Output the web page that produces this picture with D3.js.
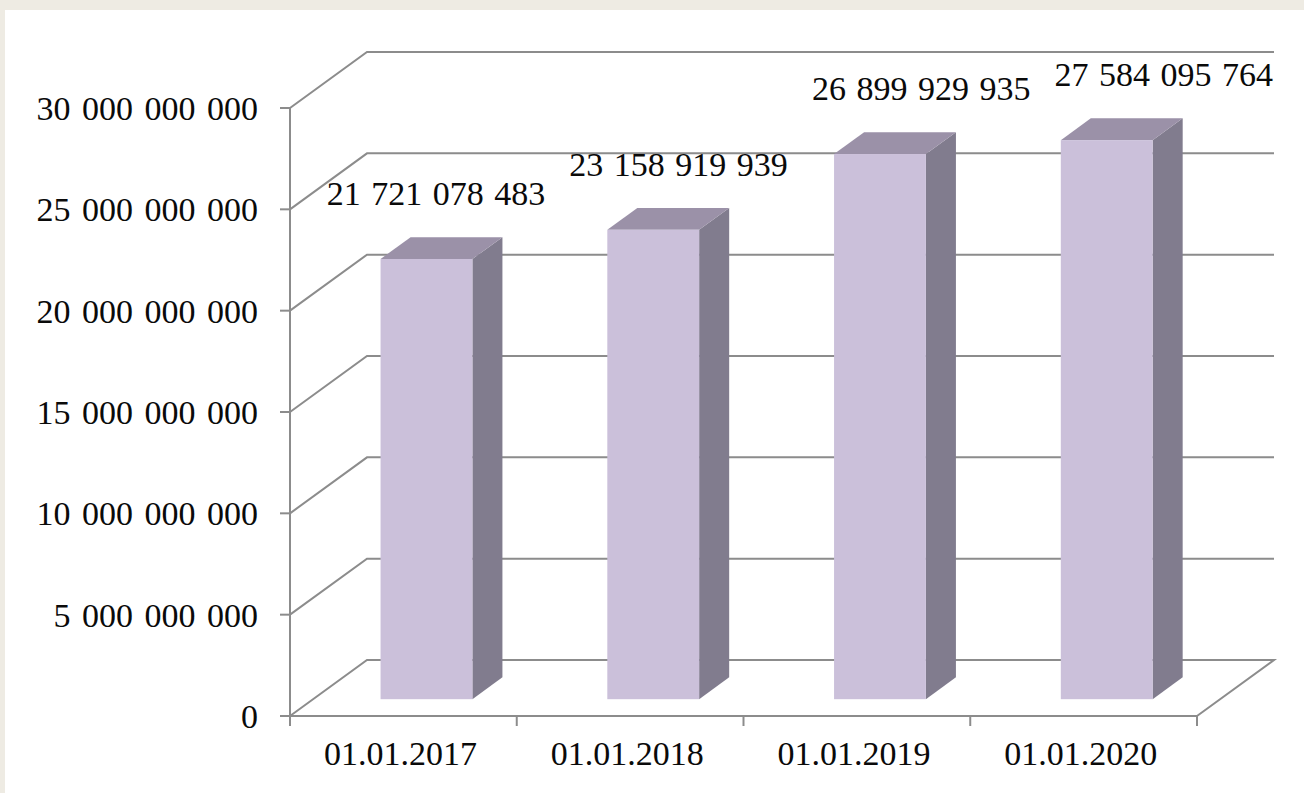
<!DOCTYPE html>
<html>
<head>
<meta charset="utf-8">
<script src="https://cdn.jsdelivr.net/npm/d3@7"></script>
<style>
  body { margin: 0; background: #eeebe3; }
  svg text { font-family: "Liberation Serif", "Times New Roman", serif; fill: #0a0a0a; }
</style>
</head>
<body>
<div id="my_dataviz"></div>
<script>
// data
let dates = ["01.01.2017", "01.01.2018", "01.01.2019", "01.01.2020"]
let values = [21721078483, 23158919939, 26899929935, 27584095764]
let yTicks = [0, 5e9, 10e9, 15e9, 20e9, 25e9, 30e9]

var W = 1304, H = 793

var svg = d3.select("#my_dataviz")
    .append("svg")
    .attr("width", W)
    .attr("height", H)

// white panel
svg.append("rect")
    .attr("x", 5).attr("y", 10)
    .attr("width", W - 5).attr("height", H - 10)
    .attr("fill", "#fff")

// front plane scales
var x = d3.scaleBand().domain(dates).range([290, 1197])
var y = d3.scaleLinear().domain([0, 30e9]).range([716, 108])

// depth offset (oblique projection)
var depthX = 77, depthY = -56
function dx(t) { return depthX * t }
function dy(t) { return depthY * t }

var gridColor = "#8c8c8c"
var fmt = v => d3.format(",")(v).replace(/,/g, " ")

// gridlines: diagonal on the left wall + horizontal on back wall
var grid = svg.append("g")
    .attr("fill", "none")
    .attr("stroke", gridColor)
    .attr("stroke-width", 2)

yTicks.forEach((v) => {
    let x0 = x.range()[0], x1 = x.range()[1]
    let pts = [[x0, y(v)], [x0 + dx(1), y(v) + dy(1)], [x1 + dx(1), y(v) + dy(1)]]
    if (v === 0) {
        pts.push([x1, y(v)])
    }
    grid.append("path").attr("d", d3.line()(pts))
})

// y axis
svg.append("line")
    .attr("x1", 290).attr("x2", 290)
    .attr("y1", y(30e9)).attr("y2", y(0) + 1)
    .attr("stroke", gridColor).attr("stroke-width", 2)

svg.append("g")
    .attr("stroke", gridColor).attr("stroke-width", 2)
    .selectAll("line")
    .data(yTicks)
    .enter()
    .append("line")
    .attr("x1", 280).attr("x2", 290)
    .attr("y1", d => y(d)).attr("y2", d => y(d))

svg.append("g")
    .selectAll("text")
    .data(yTicks)
    .enter()
    .append("text")
    .attr("x", 258)
    .attr("y", d => y(d) + 12)
    .attr("text-anchor", "end")
    .style("font-size", "34px")
    .style("word-spacing", "3px")
    .text(d => fmt(d))

// x axis
svg.append("line")
    .attr("x1", 289).attr("x2", x.range()[1])
    .attr("y1", y(0)).attr("y2", y(0))
    .attr("stroke", gridColor).attr("stroke-width", 2)

let xTickPos = dates.map(d => x(d)).concat([x.range()[1]])
svg.append("g")
    .attr("stroke", gridColor).attr("stroke-width", 2)
    .selectAll("line")
    .data(xTickPos)
    .enter()
    .append("line")
    .attr("x1", d => d).attr("x2", d => d)
    .attr("y1", y(0)).attr("y2", y(0) + 10)

svg.append("g")
    .selectAll("text")
    .data(dates)
    .enter()
    .append("text")
    .attr("x", d => x(d) + x.bandwidth() / 2 - 3)
    .attr("y", 765)
    .attr("text-anchor", "middle")
    .style("font-size", "34px")
    .text(d => d)

// bars
var tFront = 0.3, tBack = 0.69
var barW = x.bandwidth() * 0.405

var bars = svg.append("g")
    .selectAll("g")
    .data(dates.map((d, i) => ({ date: d, value: values[i] })))
    .enter()
    .append("g")

function corners(d) {
    let cx = x(d.date) + x.bandwidth() / 2
    let l = cx - barW / 2, r = cx + barW / 2
    return {
        fl: l + dx(tFront), fr: r + dx(tFront),
        bl: l + dx(tBack), br: r + dx(tBack),
        fb: y(0) + dy(tFront), ft: y(d.value) + dy(tFront),
        bb: y(0) + dy(tBack), bt: y(d.value) + dy(tBack)
    }
}

// side face
bars.append("path")
    .attr("fill", "#817c8e")
    .attr("d", d => {
        let c = corners(d)
        return d3.line()([[c.fr, c.ft], [c.br, c.bt], [c.br, c.bb], [c.fr, c.fb]]) + "Z"
    })

// top face
bars.append("path")
    .attr("fill", "#9b91a8")
    .attr("d", d => {
        let c = corners(d)
        return d3.line()([[c.fl, c.ft], [c.bl, c.bt], [c.br, c.bt], [c.fr, c.ft]]) + "Z"
    })

// front face
bars.append("rect")
    .attr("fill", "#cbc0da")
    .attr("x", d => corners(d).fl)
    .attr("y", d => corners(d).ft)
    .attr("width", barW)
    .attr("height", d => corners(d).fb - corners(d).ft)

// value labels (spread a little outward, like the perspective view)
var viewCenter = 520, spread = 0.07
bars.append("text")
    .attr("x", d => {
        let c = corners(d)
        let topC = (c.fl + c.br) / 2
        return topC + spread * (topC - viewCenter)
    })
    .attr("y", d => corners(d).bt - 32)
    .attr("text-anchor", "middle")
    .style("font-size", "34px")
    .style("word-spacing", "2px")
    .text(d => fmt(d.value))
</script>
</body>
</html>
